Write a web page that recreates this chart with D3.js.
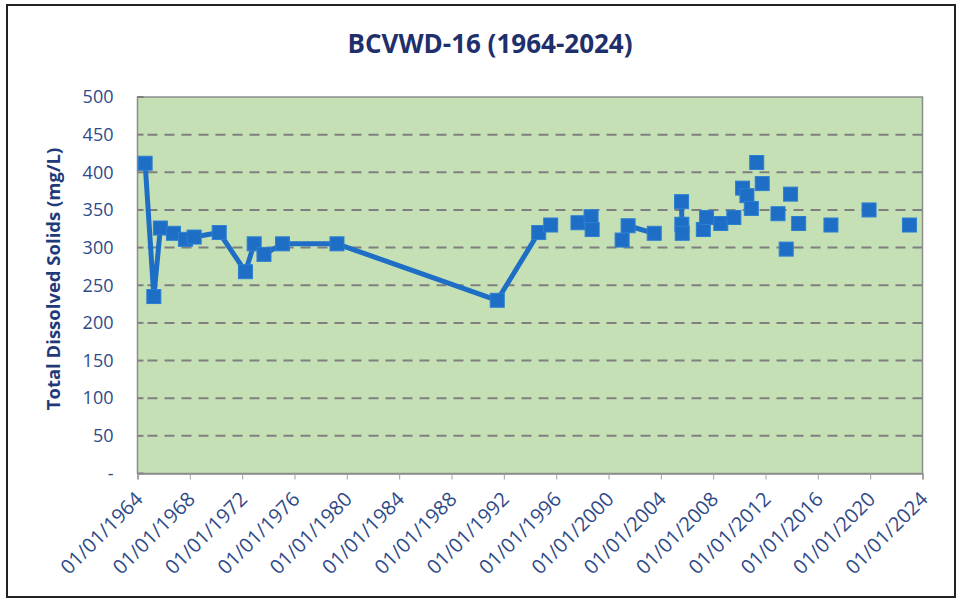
<!DOCTYPE html>
<html>
<head>
<meta charset="utf-8">
<script src="https://cdn.jsdelivr.net/npm/d3@7"></script>
<style>
  body { margin: 0; background: #fff; }
  text { font-family: "Open Sans", sans-serif; }
</style>
</head>
<body>
<script>
// sample dates and TDS values (mg/L); null = gap in the line (blank row in the sheet)
const sampleDates = [
  '1964-08-01', '1965-04-01', '1965-10-01', '1966-10-01', '1967-09-01', '1968-05-01',
  '1970-04-01', '1972-04-01', '1972-12-01', '1973-09-01', '1975-02-01', '1979-04-01',
  '1991-07-01', '1994-09-01', '1995-08-01', null,
  '1997-09-01', null,
  '1998-09-01', null,
  '1998-10-01', null,
  '2001-01-15', '2001-07-01', '2003-07-01', null,
  '2005-08-01', '2005-08-10', '2005-08-20', null,
  '2007-04-01', null, '2007-07-01', null, '2008-08-01', null, '2009-08-01', null,
  '2010-04-01', null, '2010-08-01', null, '2010-12-01', null, '2011-05-01', null,
  '2011-10-01', null, '2012-12-15', null, '2013-08-01', null, '2013-12-01', null,
  '2014-07-15', null, '2017-01-01', null, '2019-12-01', null, '2023-01-01'
];
const tdsValues = [
  412, 235, 326, 319, 311, 314,
  320, 268, 305, 291, 305, 305,
  230, 320, 330, null,
  333, null,
  341, null,
  324, null,
  310, 329, 319, null,
  361, 331, 319, null,
  324, null, 340, null, 332, null, 340, null,
  379, null, 369, null, 352, null, 413, null,
  385, null, 345, null, 298, null, 371, null,
  332, null, 330, null, 350, null, 330
];
const yTicks = [0, 50, 100, 150, 200, 250, 300, 350, 400, 450, 500];
const xTickYears = d3.range(1964, 2025, 4);

const chartTitle = 'BCVWD-16 (1964-2024)';
const yTitle = 'Total Dissolved Solids (mg/L)';

const width = 960;
const height = 600;
const plot = { left: 137.5, right: 922.5, top: 97, bottom: 473.5 };

const navy = '#1f3a78';
const blue = '#1f6ec6';

const parse = d3.timeParse('%Y-%m-%d');
const data = sampleDates.map((d, i) => ({
  date: d ? parse(d) : null,
  value: tdsValues[i]
}));

const x = d3.scaleTime()
  .domain([new Date(1964, 0, 1), new Date(2024, 0, 1)])
  .range([plot.left, plot.right]);

const y = d3.scaleLinear()
  .domain([0, 500])
  .range([plot.bottom, plot.top]);

const svg = d3.select('body').append('svg')
  .attr('width', width)
  .attr('height', height);

// outer frame
svg.append('rect')
  .attr('x', 7)
  .attr('y', 5)
  .attr('width', 948)
  .attr('height', 592)
  .attr('fill', '#fff')
  .attr('stroke', '#222')
  .attr('stroke-width', 2);

// plot area
svg.append('rect')
  .attr('x', plot.left)
  .attr('y', plot.top)
  .attr('width', plot.right - plot.left)
  .attr('height', plot.bottom - plot.top)
  .attr('fill', '#c5e0b4');

// dashed gridlines
svg.append('g')
  .selectAll('line')
  .data(yTicks.filter(t => t > 0 && t < 500))
  .enter().append('line')
    .attr('x1', plot.left + 6)
    .attr('x2', plot.right)
    .attr('y1', d => y(d))
    .attr('y2', d => y(d))
    .attr('stroke', '#7f7f7f')
    .attr('stroke-width', 2)
    .attr('stroke-dasharray', '10,7')
    .attr('stroke-dashoffset', -4);

// plot border
svg.append('rect')
  .attr('x', plot.left)
  .attr('y', plot.top)
  .attr('width', plot.right - plot.left)
  .attr('height', plot.bottom - plot.top)
  .attr('fill', 'none')
  .attr('stroke', '#8c8c8c')
  .attr('stroke-width', 1.5);

// y axis
const yAxis = svg.append('g')
  .attr('transform', `translate(${plot.left},0)`)
  .call(d3.axisLeft(y)
    .tickValues(yTicks)
    .tickSize(0)
    .tickPadding(24)
    .tickFormat(d => (d === 0 ? '-' : d)));
yAxis.select('.domain').remove();
yAxis.selectAll('text')
  .attr('fill', '#2f4a88')
  .style('font-size', '18px');

// small inside ticks on the y axis
svg.append('g')
  .selectAll('line')
  .data(yTicks)
  .enter().append('line')
    .attr('x1', plot.left)
    .attr('x2', plot.left + 6)
    .attr('y1', d => y(d))
    .attr('y2', d => y(d))
    .attr('stroke', '#7f7f7f')
    .attr('stroke-width', 2);

// x axis
const xAxis = svg.append('g')
  .attr('transform', `translate(0,${plot.bottom})`)
  .call(d3.axisBottom(x)
    .tickValues(xTickYears.map(yr => new Date(yr, 0, 1)))
    .tickSize(6)
    .tickFormat(d3.timeFormat('%d/%m/%Y')));
xAxis.select('.domain').attr('stroke', '#8c8c8c').attr('stroke-width', 1.5);
xAxis.selectAll('line').attr('stroke', '#a0a0a0');
xAxis.selectAll('text')
  .attr('fill', '#2f4a88')
  .style('font-size', '20px')
  .attr('text-anchor', 'end')
  .attr('dy', null)
  .attr('y', null)
  .attr('transform', 'translate(6,27) rotate(-45)');

// series line, broken at the gaps
const line = d3.line()
  .defined(d => d.value != null)
  .x(d => x(d.date))
  .y(d => y(d.value));

svg.append('path')
  .datum(data)
  .attr('d', line)
  .attr('fill', 'none')
  .attr('stroke', blue)
  .attr('stroke-width', 5)
  .attr('stroke-linejoin', 'round');

// square markers
const ms = 14;
svg.append('g')
  .selectAll('rect')
  .data(data.filter(d => d.value != null))
  .enter().append('rect')
    .attr('x', d => x(d.date) - ms / 2)
    .attr('y', d => y(d.value) - ms / 2)
    .attr('width', ms)
    .attr('height', ms)
    .attr('fill', blue)
    .attr('stroke', '#2b7fd4')
    .attr('stroke-width', 1);

// titles
svg.append('text')
  .attr('x', 490)
  .attr('y', 53)
  .attr('text-anchor', 'middle')
  .attr('fill', '#1f2f6b')
  .style('font-size', '26px')
  .style('font-weight', 'bold')
  .text(chartTitle);

svg.append('text')
  .attr('transform', 'translate(60,279) rotate(-90)')
  .attr('text-anchor', 'middle')
  .attr('fill', navy)
  .style('font-size', '18.5px')
  .style('font-weight', 'bold')
  .text(yTitle);
</script>
</body>
</html>
